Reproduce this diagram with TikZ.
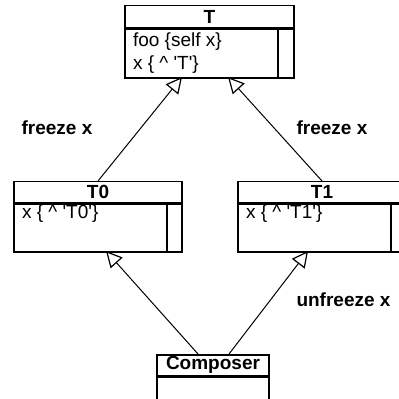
\documentclass[tikz,border=0pt]{standalone}
\usepackage{fontspec}
\setmainfont{Liberation Sans}
\usetikzlibrary{arrows.meta,positioning}

\begin{document}
\begin{tikzpicture}[x=0.5pt, y=-0.5pt, line width=0.75pt,
    every node/.style={font=\fontsize{9.5}{11.5}\selectfont, inner sep=0pt},
    classtitle/.style={draw, anchor=north, minimum height=11pt,
      font=\fontsize{9.5}{11.5}\selectfont\bfseries},
    classbody/.style={draw, anchor=north},
    member/.style={anchor=west},
    edgelabel/.style={font=\fontsize{9.5}{11.5}\selectfont\bfseries},
    inherit/.style={line width=0.5pt, -{Triangle[open, length=8pt, width=8pt, line width=0.6pt]}}]

    % Frame of the picture
    \useasboundingbox (0,0) rectangle (399,399);
    \clip (0,0) rectangle (399,399);

    % Class T
    \node[classtitle, minimum width=84.5pt] (Ttitle) at (209.5,5) {T};
    \node[classbody, minimum width=84.5pt, minimum height=24.5pt, below=0pt of Ttitle] (Tbody) {};
    \draw ([xshift=-8.5pt]Tbody.north east) -- ([xshift=-8.5pt]Tbody.south east);
    \node[member] (Tfoo) at ([xshift=4pt, yshift=-6.5pt]Tbody.north west) {foo \{self x\}};
    \node[member] (Tx) at ([xshift=4pt, yshift=-18pt]Tbody.north west) {x \{ \textasciicircum{} \textquotesingle T\textquotesingle\}};

    % Class T0
    \node[classtitle, minimum width=84pt, minimum height=10.5pt] (T0title) at (98,181) {T0};
    \node[classbody, minimum width=84pt, minimum height=24pt, below=0pt of T0title] (T0body) {};
    \draw ([xshift=-8pt]T0body.north east) -- ([xshift=-8pt]T0body.south east);
    \node[member] (T0x) at ([xshift=4pt, yshift=-5pt]T0body.north west) {x \{ \textasciicircum{} \textquotesingle T0\textquotesingle\}};

    % Class T1
    \node[classtitle, minimum width=84pt, minimum height=10.5pt] (T1title) at (322,181) {T1};
    \node[classbody, minimum width=84pt, minimum height=24pt, below=0pt of T1title] (T1body) {};
    \draw ([xshift=-8pt]T1body.north east) -- ([xshift=-8pt]T1body.south east);
    \node[member] (T1x) at ([xshift=4pt, yshift=-5pt]T1body.north west) {x \{ \textasciicircum{} \textquotesingle T1\textquotesingle\}};

    % Class Composer
    \node[classtitle, minimum width=56pt, minimum height=10.5pt] (Ctitle) at (213,354) {Composer};
    \node[classbody, minimum width=56pt, minimum height=11.5pt, below=0pt of Ctitle] (Cbody) {};

    % Inheritance arrows
    \coordinate (TtipL) at (182,77);
    \coordinate (TtipR) at (228,77);
    \coordinate (T0tip) at (106,251);
    \coordinate (T1tip) at (308,251);
    \coordinate (CstartL) at (198,354);
    \coordinate (CstartR) at (229,354);
    \draw[inherit] (T0title.north) -- (TtipL);
    \draw[inherit] (T1title.north) -- (TtipR);
    \draw[inherit] (CstartL) -- (T0tip);
    \draw[inherit] (CstartR) -- (T1tip);

    % Labels of the arrows
    \node[edgelabel] (freezeL) at (57,128) {freeze x};
    \node[edgelabel] (freezeR) at (332,128) {freeze x};
    \node[edgelabel] (unfreeze) at (343.5,300) {unfreeze x};
\end{tikzpicture}
\end{document}
